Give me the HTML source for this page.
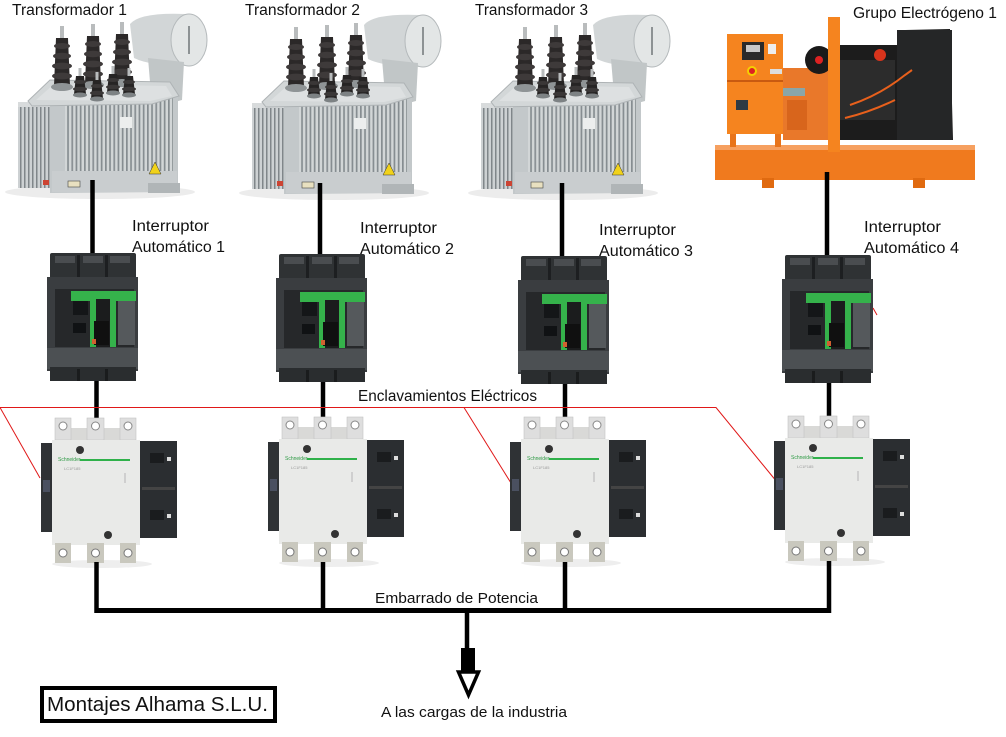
<!DOCTYPE html>
<html>
<head>
<meta charset="utf-8">
<style>
  html,body{margin:0;padding:0;background:#fff;}
  body{width:1006px;height:737px;overflow:hidden;}
  svg{display:block;}
  .t{font-family:"Liberation Sans","DejaVu Sans",sans-serif;fill:#111;}
</style>
</head>
<body>
<svg width="1006" height="737" viewBox="0 0 1006 737" xmlns="http://www.w3.org/2000/svg">
  <defs>
    <pattern id="ribs" width="4" height="10" patternUnits="userSpaceOnUse">
      <rect width="4" height="10" fill="#cdd1d3"/>
      <rect width="1.5" height="10" fill="#80868a"/>
    </pattern>
    <pattern id="ribs2" width="4.2" height="10" patternUnits="userSpaceOnUse">
      <rect width="4.2" height="10" fill="#d2d6d7"/>
      <rect width="1.7" height="10" fill="#868d91"/>
    </pattern>

    <!-- one bushing: centered at 0, top at 0 -->
    <g id="bush">
      <rect x="-2" y="0" width="4" height="13" fill="#b9bcbd"/>
      <path d="M-6,12 L6,12 L8,60 L-8,60 Z" fill="#2b2828"/>
      <ellipse cx="0" cy="20" rx="8" ry="3" fill="#3e3a3a"/>
      <ellipse cx="0" cy="30" rx="9" ry="3.2" fill="#3e3a3a"/>
      <ellipse cx="0" cy="40" rx="10" ry="3.4" fill="#3e3a3a"/>
      <ellipse cx="0" cy="50" rx="10" ry="3.4" fill="#3e3a3a"/>
      <ellipse cx="0" cy="61" rx="11" ry="4" fill="#8f9496"/>
    </g>
    <g id="sbush">
      <rect x="-1.5" y="0" width="3" height="9" fill="#b9bcbd"/>
      <path d="M-4,8 L4,8 L6,26 L-6,26 Z" fill="#262424"/>
      <ellipse cx="0" cy="14" rx="6" ry="2" fill="#3a3737"/>
      <ellipse cx="0" cy="21" rx="7" ry="2.3" fill="#3a3737"/>
      <ellipse cx="0" cy="27" rx="7" ry="2.5" fill="#7d8284"/>
    </g>

    <!-- Transformer -->
    <g id="tr">
      <ellipse cx="100" cy="192" rx="95" ry="7" fill="#ececec"/>
      <path d="M130,24 Q140,12 186,14 L189,66 Q150,66 134,58 Z" fill="#d2d6d7"/>
      <ellipse cx="189" cy="40" rx="18" ry="26" fill="#e3e6e6" stroke="#b4b9bb" stroke-width="1"/>
      <rect x="188" y="26" width="2" height="28" fill="#8d9294"/>
      <path d="M148,58 L184,62 L182,100 L160,106 L150,82 Z" fill="#c1c6c7"/>
      <rect x="18" y="102" width="36" height="86" fill="url(#ribs)"/>
      <rect x="18" y="102" width="36" height="5" fill="#d8dbdc"/>
      <path d="M50,98 L178,96 L178,192 L50,193 Z" fill="#c3c8ca"/>
      <rect x="65" y="97" width="108" height="74" fill="url(#ribs2)"/>
      <path d="M28,101 L50,80 L170,82 L179,96 L152,104 L32,106 Z" fill="#d3d7d8" stroke="#aeb3b5" stroke-width="1"/>
      <path d="M36,100 L54,84 L166,86 L172,96 L150,101 Z" fill="#dde0e1"/>
      <rect x="52" y="171" width="125" height="21" fill="#c9cdcf"/>
      <rect x="148" y="183" width="32" height="10" fill="#b0b5b7"/>
      <rect x="120" y="117" width="12" height="11" fill="#eceeee"/>
      <polygon points="155,162 161,174 149,174" fill="#f1d21a" stroke="#333" stroke-width="0.5"/>
      <rect x="68" y="181" width="12" height="6" fill="#e8e0c0" stroke="#444" stroke-width="0.6"/>
      <rect x="43" y="180" width="6" height="5" fill="#c43"/>
      <use href="#bush" transform="translate(62,26)"/>
      <use href="#bush" transform="translate(93,24)"/>
      <use href="#bush" transform="translate(122,22)"/>
      <use href="#sbush" transform="translate(80,68)"/>
      <use href="#sbush" transform="translate(97,72)"/>
      <use href="#sbush" transform="translate(113,66)"/>
      <use href="#sbush" transform="translate(129,68)"/>
    </g>

    <!-- Breaker -->
    <g id="br">
      <rect x="3" y="0" width="86" height="30" rx="2" fill="#2f3234"/>
      <rect x="8" y="3" width="20" height="7" fill="#4a4d50"/>
      <rect x="36" y="3" width="20" height="7" fill="#4a4d50"/>
      <rect x="63" y="3" width="20" height="7" fill="#4a4d50"/>
      <rect x="30" y="2" width="3" height="28" fill="#1d1f21"/>
      <rect x="58" y="2" width="3" height="28" fill="#1d1f21"/>
      <rect x="0" y="24" width="91" height="94" fill="#3a3d40"/>
      <rect x="8" y="36" width="79" height="58" fill="#26282a"/>
      <rect x="24" y="38" width="65" height="10" fill="#35b24b"/>
      <rect x="43" y="38" width="26" height="56" fill="#35b24b"/>
      <rect x="49" y="46" width="14" height="48" fill="#1b1c1d"/>
      <rect x="47" y="68" width="15" height="24" fill="#101010"/>
      <rect x="71" y="48" width="17" height="44" fill="#55595c"/>
      <rect x="26" y="48" width="15" height="14" fill="#141618"/>
      <rect x="26" y="70" width="13" height="10" fill="#101214"/>
      <rect x="45" y="86" width="4" height="5" fill="#d06030"/>
      <rect x="0" y="95" width="91" height="21" fill="#4c5053"/>
      <rect x="3" y="114" width="86" height="14" fill="#2a2d2f"/>
      <rect x="30" y="116" width="3" height="12" fill="#1a1c1d"/>
      <rect x="58" y="116" width="3" height="12" fill="#1a1c1d"/>
    </g>

    <!-- Contactor -->
    <g id="ct">
      <ellipse cx="50" cy="146" rx="50" ry="4" fill="#eeeeee"/>
      <rect x="3" y="10" width="81" height="14" fill="#d9d9d7"/>
      <rect x="3" y="0" width="16" height="22" fill="#dedede" stroke="#c4c4c4" stroke-width="0.6"/>
      <rect x="35" y="0" width="17" height="22" fill="#dedede" stroke="#c4c4c4" stroke-width="0.6"/>
      <rect x="68" y="0" width="16" height="22" fill="#dedede" stroke="#c4c4c4" stroke-width="0.6"/>
      <circle cx="11" cy="8" r="4" fill="#fff" stroke="#888" stroke-width="1"/>
      <circle cx="43.5" cy="8" r="4" fill="#fff" stroke="#888" stroke-width="1"/>
      <circle cx="76" cy="8" r="4" fill="#fff" stroke="#888" stroke-width="1"/>
      <rect x="-11" y="25" width="11" height="89" fill="#2f3235"/>
      <rect x="-9" y="62" width="7" height="12" fill="#4a5060"/>
      <rect x="88" y="23" width="37" height="97" fill="#2b2e31"/>
      <rect x="98" y="35" width="14" height="10" fill="#1a1c1e"/>
      <rect x="115" y="39" width="4" height="4" fill="#ddd"/>
      <rect x="98" y="92" width="14" height="10" fill="#1a1c1e"/>
      <rect x="115" y="96" width="4" height="4" fill="#ddd"/>
      <rect x="90" y="69" width="33" height="3" fill="#444"/>
      <rect x="0" y="22" width="88" height="105" fill="#e9eae8"/>
      <rect x="28" y="41" width="50" height="2" fill="#2fb14a"/>
      <text x="6" y="43" font-size="5" font-family="Liberation Sans, sans-serif" fill="#2e9a44">Schneider</text>
      <text x="12" y="52" font-size="4" font-family="Liberation Sans, sans-serif" fill="#999">LC1F185</text>
      <rect x="72" y="55" width="2" height="10" fill="#cfcfcf"/>
      <circle cx="28" cy="32" r="4" fill="#333"/>
      <circle cx="56" cy="117" r="4" fill="#333"/>
      <rect x="3" y="125" width="16" height="20" fill="#c9c8be"/>
      <rect x="35" y="125" width="17" height="20" fill="#c9c8be"/>
      <rect x="68" y="125" width="16" height="20" fill="#c9c8be"/>
      <circle cx="11" cy="135" r="4" fill="#fff" stroke="#777" stroke-width="1"/>
      <circle cx="43.5" cy="135" r="4" fill="#fff" stroke="#777" stroke-width="1"/>
      <circle cx="76" cy="135" r="4" fill="#fff" stroke="#777" stroke-width="1"/>
    </g>
  </defs>

  <rect width="1006" height="737" fill="#fff"/>

  <use href="#tr"/>
  <use href="#tr" transform="translate(234,1)"/>
  <use href="#tr" transform="translate(463,1)"/>

  <!-- Generator -->
  <g>
    <rect x="715" y="145" width="260" height="35" fill="#f07a1e"/>
    <rect x="715" y="145" width="260" height="5" fill="#f6a060"/>
    <rect x="762" y="178" width="12" height="10" fill="#e06a10"/>
    <rect x="913" y="178" width="12" height="10" fill="#e06a10"/>
    <rect x="730" y="133" width="6" height="14" fill="#e8741a"/>
    <rect x="775" y="133" width="6" height="14" fill="#e8741a"/>
    <rect x="783" y="68" width="50" height="72" fill="#e9782a"/>
    <rect x="783" y="88" width="22" height="8" fill="#8aa6a8"/>
    <rect x="787" y="100" width="20" height="30" fill="#d8651c"/>
    <path d="M836,45 L900,45 L905,30 L950,29 L953,140 L840,140 Z" fill="#1c1c1c"/>
    <rect x="897" y="30" width="55" height="110" fill="#252627"/>
    <rect x="840" y="60" width="55" height="60" fill="#2c2c2c"/>
    <path d="M850,105 Q880,95 905,75 L912,70" stroke="#e8601c" stroke-width="2" fill="none"/>
    <path d="M845,118 Q870,112 895,100" stroke="#e8601c" stroke-width="2" fill="none"/>
    <circle cx="880" cy="55" r="6" fill="#d8341c"/>
    <circle cx="819" cy="60" r="14" fill="#1a1a1a"/>
    <circle cx="819" cy="60" r="4" fill="#d22"/>
    <rect x="727" y="34" width="56" height="100" fill="#f5841f"/>
    <rect x="727" y="80" width="56" height="2" fill="#c85a10"/>
    <rect x="742" y="42" width="22" height="18" fill="#2a2a2a"/>
    <rect x="746" y="45" width="14" height="7" fill="#c8c8c8"/>
    <circle cx="752" cy="71" r="4" fill="#d22" stroke="#f5d000" stroke-width="2"/>
    <rect x="736" y="100" width="12" height="10" fill="#2e3a44"/>
    <rect x="768" y="44" width="8" height="10" fill="#eee"/>
    <rect x="770" y="69" width="12" height="5" fill="#ddd"/>
    <rect x="828" y="17" width="12" height="135" fill="#f5841f"/>
  </g>

  <g stroke="#000" stroke-width="4.5">
    <line x1="92.5" y1="180" x2="92.5" y2="256"/>
    <line x1="320" y1="183" x2="320" y2="257"/>
    <line x1="562" y1="183" x2="562" y2="259"/>
    <line x1="827" y1="172" x2="827" y2="258"/>
    <line x1="96.5" y1="376" x2="96.5" y2="420"/>
    <line x1="323" y1="378" x2="323" y2="420"/>
    <line x1="565" y1="379" x2="565" y2="420"/>
    <line x1="829" y1="378" x2="829" y2="420"/>
  </g>

  <use href="#br" transform="translate(47,253)"/>
  <use href="#br" transform="translate(276,254)"/>
  <use href="#br" transform="translate(518,256)"/>
  <use href="#br" transform="translate(782,255)"/>

  <g stroke="#e01818" stroke-width="1" fill="none">
    <polyline points="0,407.5 716,407.5 777,482"/>
    <line x1="0" y1="407.5" x2="40" y2="478"/>
    <line x1="464" y1="407.5" x2="511" y2="483"/>
    <line x1="873" y1="308" x2="877" y2="315"/>
  </g>

  <use href="#ct" transform="translate(52,418)"/>
  <use href="#ct" transform="translate(279,417)"/>
  <use href="#ct" transform="translate(521,417)"/>
  <use href="#ct" transform="translate(785,416)"/>

  <g stroke="#000" stroke-width="4.5" fill="none">
    <line x1="96.5" y1="562" x2="96.5" y2="613"/>
    <line x1="323" y1="562" x2="323" y2="613"/>
    <line x1="565" y1="562" x2="565" y2="613"/>
    <line x1="829" y1="561" x2="829" y2="613"/>
    <line x1="94.5" y1="610.5" x2="831" y2="610.5" stroke-width="5"/>
    <line x1="467" y1="610" x2="467" y2="650"/>
  </g>
  <rect x="461" y="648" width="14" height="24" fill="#000"/>
  <polygon points="458.5,672 478.5,672 468.5,695" fill="#fff" stroke="#000" stroke-width="3.5" stroke-linejoin="miter"/>

  <rect x="42" y="688" width="233" height="33" fill="#fff" stroke="#000" stroke-width="4"/>

  <g class="t">
    <text x="12" y="15" font-size="15.5" textLength="115" lengthAdjust="spacingAndGlyphs">Transformador 1</text>
    <text x="245" y="15" font-size="15.5" textLength="115" lengthAdjust="spacingAndGlyphs">Transformador 2</text>
    <text x="475" y="15" font-size="15.5" textLength="113" lengthAdjust="spacingAndGlyphs">Transformador 3</text>
    <text x="853" y="18" font-size="15.5" textLength="144" lengthAdjust="spacingAndGlyphs">Grupo Electrógeno 1</text>

    <text x="132" y="231" font-size="15.5" textLength="77" lengthAdjust="spacingAndGlyphs">Interruptor</text>
    <text x="132" y="252" font-size="15.5" textLength="93" lengthAdjust="spacingAndGlyphs">Automático 1</text>
    <text x="360" y="233" font-size="15.5" textLength="77" lengthAdjust="spacingAndGlyphs">Interruptor</text>
    <text x="360" y="254" font-size="15.5" textLength="94" lengthAdjust="spacingAndGlyphs">Automático 2</text>
    <text x="599" y="235" font-size="15.5" textLength="77" lengthAdjust="spacingAndGlyphs">Interruptor</text>
    <text x="599" y="256" font-size="15.5" textLength="94" lengthAdjust="spacingAndGlyphs">Automático 3</text>
    <text x="864" y="232" font-size="15.5" textLength="77" lengthAdjust="spacingAndGlyphs">Interruptor</text>
    <text x="864" y="253" font-size="15.5" textLength="95" lengthAdjust="spacingAndGlyphs">Automático 4</text>

    <text x="358" y="401" font-size="15.5" textLength="179" lengthAdjust="spacingAndGlyphs">Enclavamientos Eléctricos</text>
    <text x="375" y="603" font-size="14.5" textLength="163" lengthAdjust="spacingAndGlyphs">Embarrado de Potencia</text>
    <text x="381" y="717" font-size="15" textLength="186" lengthAdjust="spacingAndGlyphs">A las cargas de la industria</text>
    <text x="47" y="711" font-size="20" textLength="221" lengthAdjust="spacingAndGlyphs">Montajes Alhama S.L.U.</text>
  </g>
</svg>
</body>
</html>
